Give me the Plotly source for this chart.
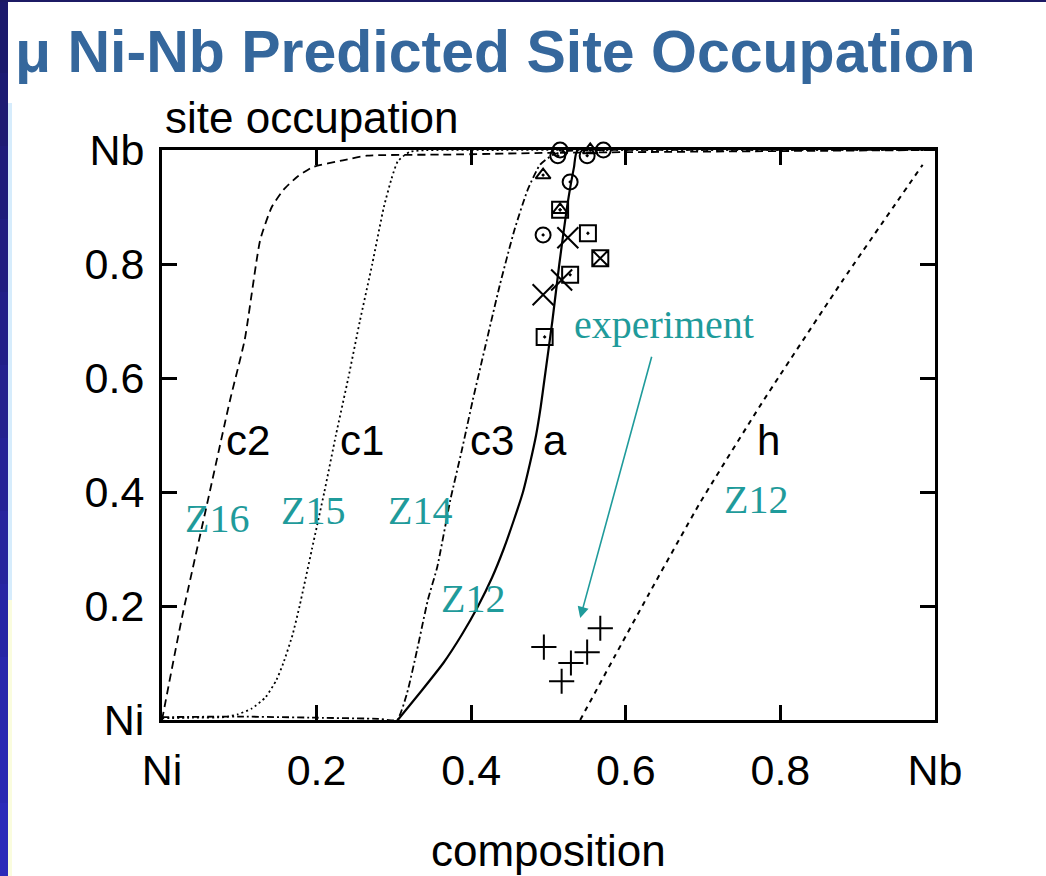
import plotly.graph_objects as go

# ---------------- data ----------------
x_ticks = [0, 0.2, 0.4, 0.6, 0.8, 1.0]
x_ticktext = ["Ni", "0.2", "0.4", "0.6", "0.8", "Nb"]
y_ticks = [0, 0.2, 0.4, 0.6, 0.8, 1.0]
y_ticktext = ["Ni", "0.2", "0.4", "0.6", "0.8", "Nb"]

c2_x = [0.0, 0.026, 0.058, 0.088, 0.107, 0.127, 0.142, 0.157, 0.175, 0.195, 0.234, 0.265, 0.373, 0.50, 1.0]
c2_y = [0.0, 0.181, 0.377, 0.561, 0.667, 0.842, 0.900, 0.930, 0.953, 0.970, 0.982, 0.990, 0.992, 0.995, 1.0]

c1_x = [0.0, 0.040, 0.081, 0.098, 0.116, 0.134, 0.148, 0.157, 0.169, 0.178, 0.194, 0.210, 0.225, 0.241, 0.256, 0.272, 0.287, 0.297, 0.305, 0.321, 0.437, 1.0]
c1_y = [0.003, 0.004, 0.005, 0.010, 0.020, 0.040, 0.070, 0.100, 0.150, 0.200, 0.300, 0.400, 0.500, 0.600, 0.700, 0.800, 0.900, 0.950, 0.980, 0.997, 1.0, 1.0]

c3_x = [0.0, 0.10, 0.20, 0.28, 0.304, 0.317, 0.330, 0.344, 0.356, 0.373, 0.388, 0.402, 0.418, 0.437, 0.456, 0.473, 0.489, 0.505, 0.521, 0.567, 1.0]
c3_y = [0.005, 0.006, 0.004, 0.002, 0.0, 0.047, 0.123, 0.211, 0.268, 0.386, 0.474, 0.561, 0.654, 0.763, 0.860, 0.930, 0.974, 0.991, 0.998, 1.0, 1.0]

a_x = [0.305, 0.335, 0.364, 0.388, 0.409, 0.427, 0.442, 0.455, 0.467, 0.476, 0.484, 0.490, 0.495, 0.505, 0.514, 0.524, 0.533, 0.538, 1.0]
a_y = [0.0, 0.050, 0.100, 0.150, 0.200, 0.250, 0.300, 0.350, 0.400, 0.450, 0.500, 0.550, 0.600, 0.700, 0.800, 0.900, 0.970, 1.0, 1.0]

h_x = [0.541, 0.585, 0.629, 0.696, 0.776, 0.880, 0.984]
h_y = [0.0, 0.110, 0.219, 0.381, 0.556, 0.770, 0.974]

circ_x = [0.515, 0.512, 0.571, 0.550, 0.528, 0.493]
circ_y = [1.0, 0.990, 1.0, 0.990, 0.944, 0.851]
tri_x = [0.554, 0.493, 0.515]
tri_y = [1.0, 0.956, 0.895]
sq_x = [0.515, 0.551, 0.528, 0.495]
sq_y = [0.895, 0.854, 0.781, 0.672]
sqx_x = [0.567]
sqx_y = [0.810]
cross_x = [0.525, 0.517, 0.493]
cross_y = [0.846, 0.772, 0.746]
plus_x = [0.567, 0.494, 0.550, 0.529, 0.517]
plus_y = [0.161, 0.128, 0.119, 0.100, 0.068]

curve_labels = ["c2", "c1", "c3", "a", "h"]
curve_label_x = [0.111, 0.259, 0.427, 0.508, 0.784]
curve_label_y = [0.491, 0.491, 0.491, 0.491, 0.491]
z_labels = ["Z16", "Z15", "Z14", "Z12", "Z12"]
z_label_x = [0.071, 0.195, 0.334, 0.402, 0.768]
z_label_y = [0.354, 0.368, 0.368, 0.214, 0.386]

# ---------------- figure ----------------
W, H = 1046, 876
L, R, T, B = 162, 1046 - 935, 150, 876 - 720
PW, PH = W - L - R, H - T - B

def px(xp):
    return (xp - L) / PW

def py(yp):
    return (H - B - yp) / PH

TEAL = "#1f9b9b"
SANS = "Liberation Sans, Arial, sans-serif"
SERIF = "Liberation Serif, Times New Roman, serif"

fig = go.Figure()

line_specs = [
    (c2_x, c2_y, "8px,5px", 1.8),
    (c1_x, c1_y, "2px,3px", 1.8),
    (c3_x, c3_y, "7px,3px,2px,3px", 1.8),
    (a_x, a_y, "solid", 2.2),
    (h_x, h_y, "5px,5px", 2.0),
]
for xs, ys, dash, w in line_specs:
    fig.add_trace(go.Scatter(x=xs, y=ys, mode="lines",
                             line=dict(color="black", width=w, dash=dash, shape="spline", smoothing=0.5),
                             showlegend=False, hoverinfo="skip"))

marker_specs = [
    (sq_x, sq_y, "square-open-dot", 16),
    (sqx_x, sqx_y, "square-x-open", 16),
    (circ_x, circ_y, "circle-open-dot", 15),
    (tri_x, tri_y, "triangle-up-open-dot", 13),
    (cross_x, cross_y, "x-thin-open", 21),
    (plus_x, plus_y, "cross-thin-open", 18),
]
for xs, ys, sym, s in marker_specs:
    fig.add_trace(go.Scatter(x=xs, y=ys, mode="markers", cliponaxis=False,
                             marker=dict(symbol=sym, size=s, color="black", line=dict(color="black", width=2)),
                             showlegend=False, hoverinfo="skip"))

annotations = []
for t, x, y in zip(curve_labels, curve_label_x, curve_label_y):
    annotations.append(dict(x=x, y=y, xref="x", yref="y", text=t, showarrow=False,
                            font=dict(family=SANS, size=42, color="black")))
for t, x, y in zip(z_labels, z_label_x, z_label_y):
    annotations.append(dict(x=x, y=y, xref="x", yref="y", text=t, showarrow=False,
                            font=dict(family=SERIF, size=40, color=TEAL)))
annotations.append(dict(x=0.650, y=0.693, xref="x", yref="y", text="experiment", showarrow=False,
                        font=dict(family=SERIF, size=40, color=TEAL)))
annotations.append(dict(x=0.541, y=0.179, ax=0.634, ay=0.640, xref="x", yref="y", axref="x", ayref="y",
                        text="", showarrow=True, arrowhead=2, arrowsize=1.4, arrowwidth=1.6, arrowcolor=TEAL))
annotations.append(dict(x=px(163), y=py(117), xref="paper", yref="paper", xanchor="left", yanchor="middle",
                        text="site occupation", showarrow=False, font=dict(family=SANS, size=44, color="black")))
annotations.append(dict(x=px(548), y=py(850), xref="paper", yref="paper", xanchor="center", yanchor="middle",
                        text="composition", showarrow=False, font=dict(family=SANS, size=44, color="black")))
annotations.append(dict(x=px(13), y=py(52), xref="paper", yref="paper", xanchor="left", yanchor="middle",
                        text="<b>\u03bc Ni-Nb Predicted Site Occupation</b>", showarrow=False,
                        font=dict(family=SANS, size=59, color="#35679c")))

# background decorations (slide frame)
shapes = []
nseg = 12
for i in range(nseg):
    y0 = i * H / nseg
    y1 = (i + 1) * H / nseg
    f = i / (nseg - 1)
    r = int(28 + (44 - 28) * f)
    g = int(26 + (42 - 26) * f)
    b = int(108 + (185 - 108) * f)
    shapes.append(dict(type="rect", xref="paper", yref="paper", x0=px(0), x1=px(8), y0=py(y1), y1=py(y0),
                       line=dict(width=0), fillcolor=f"rgb({r},{g},{b})", layer="below"))
shapes.append(dict(type="rect", xref="paper", yref="paper", x0=px(0), x1=px(W), y0=py(2), y1=py(0),
                   line=dict(width=0), fillcolor="rgb(28,26,100)", layer="below"))
shapes.append(dict(type="rect", xref="paper", yref="paper", x0=px(8), x1=px(12), y0=py(600), y1=py(103),
                   line=dict(width=0), fillcolor="rgb(214,236,252)", layer="below"))
shapes.append(dict(type="rect", xref="paper", yref="paper", x0=px(8), x1=px(12), y0=py(H), y1=py(600),
                   line=dict(width=0), fillcolor="rgb(250,252,222)", layer="below"))

axis_common = dict(range=[0, 1], showgrid=False, zeroline=False, showline=True, linecolor="black", linewidth=3,
                   mirror="ticks", ticks="inside", ticklen=15, tickwidth=3, tickcolor="black",
                   tickfont=dict(family=SANS, size=43, color="black"))

fig.update_layout(
    width=W, height=H,
    margin=dict(l=L, r=R, t=T, b=B, pad=0),
    paper_bgcolor="white", plot_bgcolor="white",
    xaxis=dict(tickvals=x_ticks, ticktext=x_ticktext, ticklabelstandoff=10, **axis_common),
    yaxis=dict(tickvals=y_ticks, ticktext=y_ticktext, ticklabelstandoff=6, **axis_common),
    annotations=annotations,
    shapes=shapes,
    showlegend=False,
)

fig.write_html("out.html")
